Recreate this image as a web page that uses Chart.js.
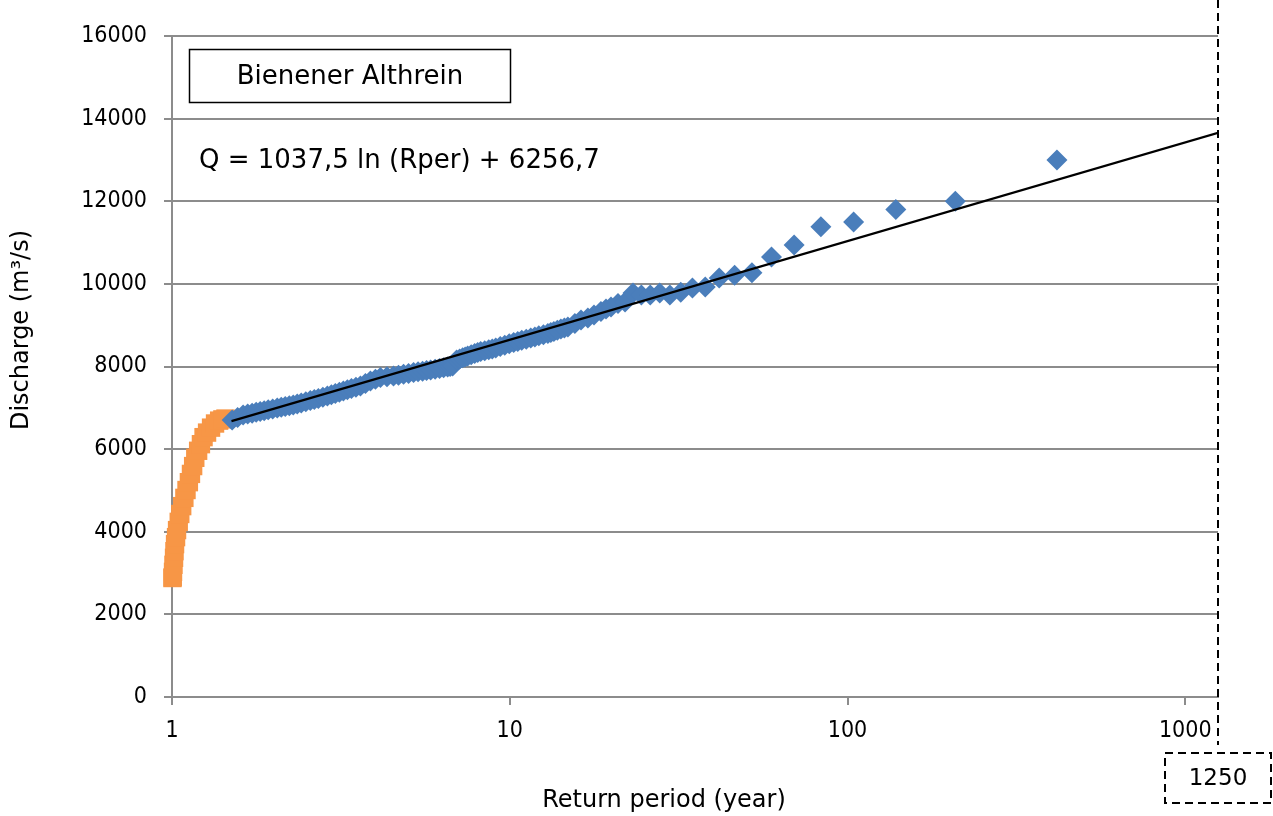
<!DOCTYPE html>
<html>
<head>
<meta charset="utf-8">
<title>Bienener Althrein</title>
<script src="https://cdn.jsdelivr.net/npm/chart.js@4.4.0/dist/chart.umd.min.js"></script>
<style>
  html, body { margin: 0; padding: 0; background: #fff; }
  #chartBox { width: 1273px; height: 816px; }
</style>
</head>
<body>
<div id="chartBox"><canvas id="freqChart" width="1273" height="816"></canvas></div>
<script>
// Return periods (years) and discharges (m3/s)

// upper part of the sample (blue diamonds)
const blueReturnPeriod = [1.507, 1.564, 1.624, 1.675, 1.727, 1.775, 1.824, 1.875, 1.927, 1.987,
  2.049, 2.106, 2.164, 2.225, 2.286, 2.349, 2.414, 2.49, 2.567, 2.638,
  2.712, 2.797, 2.884, 2.964, 3.045, 3.13, 3.217, 3.306, 3.398, 3.504,
  3.613, 3.738, 3.868, 4.003, 4.142, 4.33, 4.527, 4.684, 4.849, 5.016,
  5.191, 5.352, 5.518, 5.672, 5.83, 6.012, 6.198, 6.371, 6.546, 6.659,
  6.773, 6.962, 7.106, 7.254, 7.379, 7.506, 7.688, 7.874, 8.035, 8.202,
  8.431, 8.665, 8.874, 9.088, 9.372, 9.665, 9.966, 10.27, 10.56, 10.85,
  11.19, 11.54, 11.87, 12.19, 12.58, 12.97, 13.23, 13.51, 13.83, 14.17,
  14.51, 14.86, 15.59, 16.25, 17.03, 17.76, 18.62, 19.27, 19.94, 20.92,
  21.95, 23.17, 24.53, 26.06, 27.8, 29.79, 32.08, 34.75, 37.91, 41.7,
  46.33, 52.13, 59.57, 69.5, 83.4, 104.25, 139, 208.5, 417];
const blueDischarge = [6705, 6765, 6826, 6850, 6871, 6891, 6911, 6931, 6951, 6973,
  6996, 7014, 7032, 7050, 7068, 7093, 7119, 7148, 7177, 7203,
  7228, 7257, 7286, 7316, 7347, 7377, 7407, 7437, 7468, 7498,
  7528, 7590, 7650, 7693, 7735, 7752, 7770, 7791, 7812, 7833,
  7855, 7871, 7888, 7902, 7916, 7935, 7954, 7971, 7988, 8000,
  8013, 8158, 8184, 8210, 8232, 8255, 8284, 8313, 8338, 8364,
  8384, 8404, 8426, 8448, 8482, 8515, 8548, 8582, 8607, 8633,
  8661, 8690, 8716, 8742, 8770, 8799, 8822, 8846, 8877, 8908,
  8932, 8957, 9042, 9126, 9173, 9247, 9330, 9390, 9441, 9525,
  9560, 9780, 9730, 9730, 9780, 9730, 9800, 9900, 9925, 10140,
  10210, 10270, 10650, 10940, 11380, 11500, 11800, 12000, 13000];

// lower part of the sample (orange squares)
const orangeReturnPeriod = [1.003, 1.005, 1.007, 1.01, 1.014, 1.017, 1.021, 1.028, 1.035, 1.047,
  1.058, 1.072, 1.088, 1.104, 1.122, 1.138, 1.155, 1.172, 1.195, 1.218,
  1.24, 1.27, 1.305, 1.341, 1.379, 1.41, 1.44];
const orangeDischarge = [2880, 2900, 3030, 3200, 3370, 3530, 3700, 3870, 4040, 4240,
  4430, 4620, 4820, 5010, 5200, 5400, 5590, 5790, 5960, 6120,
  6290, 6400, 6520, 6620, 6690, 6720, 6740];

// logarithmic fit Q = 1037,5 ln(T) + 6256,7, drawn from T = 1.5 to 1250
const trendReturnPeriod = [1.5, 1250];
const trendDischarge = [6677, 13655];

// axis ticks
const xTickValues = [1, 10, 100, 1000];
const yTickValues = [0, 2000, 4000, 6000, 8000, 10000, 12000, 14000, 16000];

const boundaryPeriod = 1250;
const stationName = 'Bienener Althrein';
const equationText = 'Q = 1037,5 ln (Rper) + 6256,7';

const FONT = '"DejaVu Sans", Verdana, sans-serif';
const TICK_FONT = '"DejaVu Sans Condensed", "DejaVu Sans", sans-serif';
const GRID = '#8c8c8c';

function toPoints(xs, ys) {
  return xs.map((x, i) => ({ x: x, y: ys[i] }));
}

// Text boxes, dashed 1250 marker and axis titles
const annotationPlugin = {
  id: 'annotations',
  afterDatasetsDraw(chart) {
    const ctx = chart.ctx;
    const area = chart.chartArea;
    const xb = Math.round(chart.scales.x.getPixelForValue(boundaryPeriod));

    ctx.save();
    ctx.fillStyle = '#000';
    ctx.strokeStyle = '#000';

    // dashed line at the 1250 year limit
    ctx.lineWidth = 2;
    ctx.setLineDash([8, 5]);
    ctx.beginPath();
    ctx.moveTo(xb, 0);
    ctx.lineTo(xb, area.bottom + 48);
    ctx.stroke();

    // dashed label box
    ctx.strokeRect(xb - 53, area.bottom + 56, 106, 50);
    ctx.setLineDash([]);
    ctx.font = '23px ' + FONT;
    ctx.textAlign = 'center';
    ctx.textBaseline = 'middle';
    ctx.fillText(String(boundaryPeriod), xb, area.bottom + 82);

    // station name box
    ctx.lineWidth = 1.5;
    ctx.strokeRect(area.left + 17.5, area.top + 13.5, 321, 53);
    ctx.font = '26px ' + FONT;
    ctx.fillText(stationName, area.left + 178, area.top + 41);

    // fitted equation
    ctx.textAlign = 'left';
    ctx.textBaseline = 'alphabetic';
    ctx.fillText(equationText, area.left + 27, area.top + 132);

    // axis titles
    ctx.font = '24px ' + FONT;
    ctx.textAlign = 'center';
    ctx.textBaseline = 'middle';
    ctx.fillText('Return period (year)', 664, 801);
    ctx.translate(22, 330);
    ctx.rotate(-Math.PI / 2);
    ctx.fillText('Discharge (m³/s)', 0, 0);
    ctx.restore();
  }
};

const ctx = document.getElementById('freqChart').getContext('2d');
window.freqChart = new Chart(ctx, {
  type: 'scatter',
  data: {
    datasets: [
      {
        label: 'Trend',
        data: toPoints(trendReturnPeriod, trendDischarge),
        showLine: true,
        borderColor: '#000',
        borderWidth: 2.2,
        pointRadius: 0,
        fill: false,
        order: 0
      },
      {
        label: 'Upper sample',
        data: toPoints(blueReturnPeriod, blueDischarge),
        pointStyle: 'rectRot',
        pointRadius: 10.5,
        backgroundColor: '#4a7ebb',
        borderColor: '#4a7ebb',
        borderWidth: 0,
        clip: false,
        order: 1
      },
      {
        label: 'Lower sample',
        data: toPoints(orangeReturnPeriod, orangeDischarge),
        pointStyle: 'rect',
        pointRadius: 13,
        backgroundColor: '#f79646',
        borderColor: '#f79646',
        borderWidth: 0,
        clip: false,
        order: 2
      }
    ]
  },
  options: {
    responsive: false,
    animation: false,
    devicePixelRatio: 1,
    layout: {
      padding: { left: 82, top: 36, right: 55, bottom: 69 }
    },
    plugins: {
      legend: { display: false },
      tooltip: { enabled: false }
    },
    scales: {
      x: {
        type: 'logarithmic',
        min: 1,
        max: 1250,
        bounds: 'data',
        afterBuildTicks: function(scale) {
          scale.ticks = xTickValues.map(v => ({ value: v, major: true }));
        },
        afterFit: function(scale) {
          scale.height = 50;
        },
        ticks: {
          callback: function(value) { return String(value); },
          font: { family: TICK_FONT, size: 23 },
          color: '#000',
          padding: 12,
          maxRotation: 0,
          autoSkip: false
        },
        grid: {
          drawOnChartArea: false,
          drawTicks: true,
          tickLength: 8,
          color: GRID,
          lineWidth: 2
        },
        border: { display: true, color: GRID, width: 2 }
      },
      y: {
        min: 0,
        max: 16000,
        afterBuildTicks: function(scale) {
          scale.ticks = yTickValues.map(v => ({ value: v }));
        },
        afterFit: function(scale) {
          scale.width = 90;
        },
        ticks: {
          callback: function(value) { return String(value); },
          font: { family: TICK_FONT, size: 23 },
          color: '#000',
          padding: 17
        },
        grid: {
          tickLength: 8,
          color: GRID,
          lineWidth: 2
        },
        border: { display: true, color: GRID, width: 2 }
      }
    }
  },
  plugins: [annotationPlugin]
});
</script>
</body>
</html>
